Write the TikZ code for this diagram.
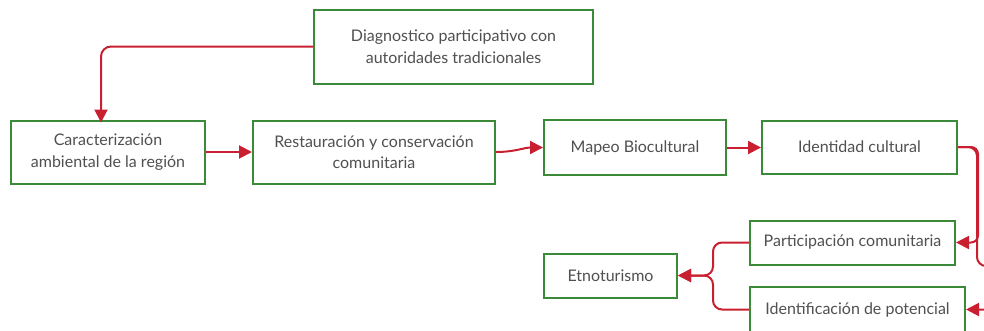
\documentclass[tikz,border=0pt]{standalone}
\usepackage{fontspec}
\setmainfont{Lato}
\usetikzlibrary{arrows.meta}
\definecolor{box-green}{RGB}{58, 138, 58}
\definecolor{link-red}{RGB}{200, 32, 48}
\definecolor{text-gray}{RGB}{80, 80, 80}

\begin{document}
\begin{tikzpicture}[x=1pt, y=-1pt,
    stepbox/.style={draw=box-green, line width=2pt, fill=white, align=center,
        text=text-gray, font=\fontsize{16}{21.5}\selectfont, inner sep=0pt},
    link/.style={draw=link-red, line width=2pt, -{Triangle[length=13pt, width=13pt]}}]
                \useasboundingbox (0, 0) rectangle (984, 330);
                \clip (0, 0) rectangle (984, 330);
                \node[stepbox, minimum width=279, minimum height=74] (diag) at (453.5, 46.5) {Diagnostico participativo con\\autoridades tradicionales};
                \node[stepbox, minimum width=194, minimum height=63] (carac) at (108, 152) {Caracterización\\ambiental de la región};
                \node[stepbox, minimum width=242, minimum height=63] (resta) at (374, 152) {Restauración y conservación\\comunitaria};
                \node[stepbox, minimum width=182, minimum height=55] (mapeo) at (635, 147.5) {Mapeo Biocultural};
                \node[stepbox, minimum width=195, minimum height=53] (ident) at (859.5, 147) {Identidad cultural};
                \node[stepbox, minimum width=205, minimum height=44] (parti) at (852.5, 242.5) {Participación comunitaria};
                \node[stepbox, minimum width=133, minimum height=44] (etno) at (610.5, 275.5) {Etnoturismo};
                \node[stepbox, minimum width=215, minimum height=46] (identif) at (857.5, 309.5) {Identificación de potencial};
                \coordinate (merge) at (713, 275.5);
                \draw[link, rounded corners=10] (diag.west) -| ([xshift=-7pt, yshift=-3pt]carac.north);
                \draw[link] (carac.east) -- (resta.west);
                \draw[link] (resta.east) to[out=0, in=180] (mapeo.west);
                \draw[link] (mapeo.east) -- (mapeo.east -| ident.west);
                \draw[link, rounded corners=7] (ident.east) -| ([xshift=22pt]parti.east) -- (parti.east);
                \draw[link, rounded corners=9] (ident.east) -| (977, 266) -| (1000, 309.5) -- (identif.east);
                \draw[link, rounded corners=9] (parti.west) -| (merge) -- (etno.east);
                \draw[link, rounded corners=9] (identif.west) -| (merge) -- (etno.east);
            \end{tikzpicture}
\end{document}
